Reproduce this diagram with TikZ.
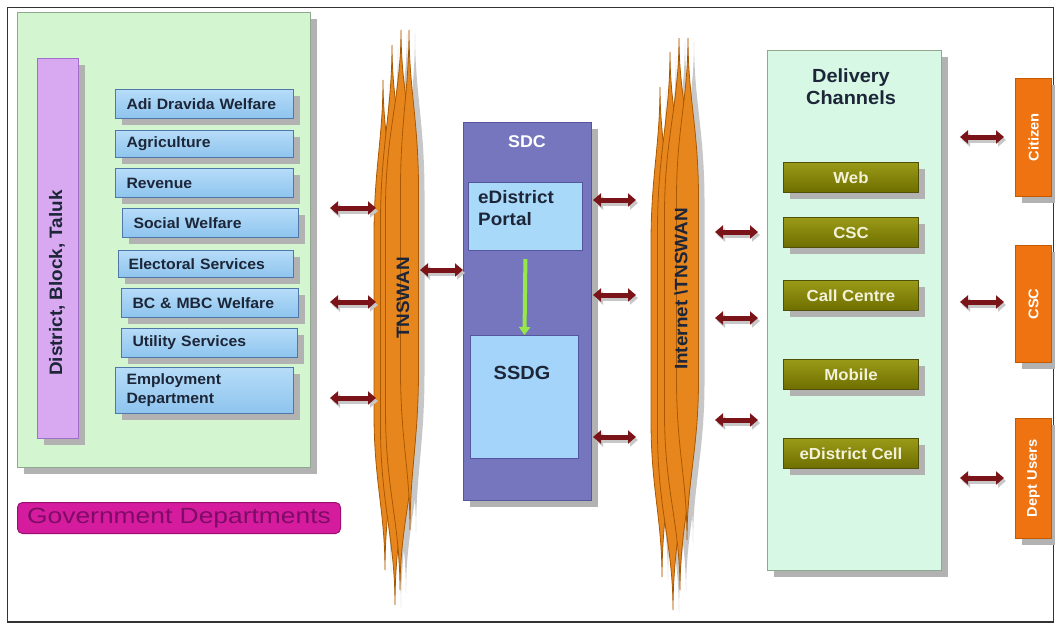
\documentclass[tikz,border=0pt]{standalone}
\usepackage{fontspec}
\setmainfont{Liberation Sans}[FakeStretch=1.05]
\newfontfamily\govfont{Liberation Sans}[FakeStretch=1.2]
\usetikzlibrary{arrows.meta,shadows}
\definecolor{framecol}{HTML}{333333}
\definecolor{panelgreen}{HTML}{D3F5D0}
\definecolor{panelborder}{HTML}{8FA88F}
\definecolor{delivgreen}{HTML}{D8F8E6}
\definecolor{deptlight}{HTML}{B6DCF8}
\definecolor{deptdark}{HTML}{8EC4EE}
\definecolor{deptborder}{HTML}{4F78A8}
\definecolor{depttext}{HTML}{1C2638}
\definecolor{purplebar}{HTML}{D8A8F0}
\definecolor{purpleborder}{HTML}{A070C8}
\definecolor{sdcfill}{HTML}{7676BE}
\definecolor{sdcborder}{HTML}{5555A0}
\definecolor{portalfill}{HTML}{A9D9F8}
\definecolor{ssdgfill}{HTML}{A4D4FA}
\definecolor{olivetop}{HTML}{9A9A18}
\definecolor{olivebot}{HTML}{6E6E00}
\definecolor{oliveborder}{HTML}{50500A}
\definecolor{olivetext}{HTML}{F2F2D8}
\definecolor{orangefill}{HTML}{F07312}
\definecolor{orangeborder}{HTML}{C45A00}
\definecolor{flamefill}{HTML}{E8861E}
\definecolor{flameedge}{HTML}{A85800}
\definecolor{arrowred}{HTML}{7A1418}
\definecolor{greenarrow}{HTML}{96E84A}
\definecolor{govfill}{HTML}{D61C9E}
\definecolor{govtext}{HTML}{7E0C66}
\definecolor{govborder}{HTML}{9A1070}
% style, xtop, ytop, xbottom, ybottom, half width
\newcommand\spindle[6]{%
  \path[#1] (#2,#3)
   .. controls (#2,{#3+0.12*(#5-#3)}) and ({(#2+#4)/2-#6},{#3+0.18*(#5-#3)}) .. ({(#2+#4)/2-#6},{#3+0.32*(#5-#3)})
   -- ({(#2+#4)/2-#6},{#3+0.68*(#5-#3)})
   .. controls ({(#2+#4)/2-#6},{#3+0.82*(#5-#3)}) and (#4,{#3+0.88*(#5-#3)}) .. (#4,#5)
   .. controls (#4,{#3+0.88*(#5-#3)}) and ({(#2+#4)/2+#6},{#3+0.82*(#5-#3)}) .. ({(#2+#4)/2+#6},{#3+0.68*(#5-#3)})
   -- ({(#2+#4)/2+#6},{#3+0.32*(#5-#3)})
   .. controls ({(#2+#4)/2+#6},{#3+0.18*(#5-#3)}) and (#2,{#3+0.12*(#5-#3)}) .. cycle;}
\newcommand\darrow[2]{%
  \draw[darrshadow] ([shift={(2pt,-3pt)}]#1) -- ([shift={(2pt,-3pt)}]#2);
  \draw[darr] (#1) -- (#2);}
\begin{document}
\begin{tikzpicture}[x=1pt,y=-1pt,
  shad/.style={drop shadow={shadow xshift=6pt,shadow yshift=-6pt,fill=black!30,opacity=1}},
  panel/.style={draw=panelborder,line width=1.2pt,shad,anchor=north west,inner sep=0pt},
  dept/.style={draw=deptborder,line width=1pt,top color=deptlight,bottom color=deptdark,
    anchor=north west,inner xsep=11pt,inner ysep=0pt,align=left,text=depttext,
    font=\bfseries\fontsize{15}{19}\selectfont,shad},
  olive/.style={draw=oliveborder,line width=1pt,top color=olivetop,bottom color=olivebot,
    anchor=north west,minimum width=135pt,minimum height=30pt,inner sep=0pt,text=olivetext,
    font=\bfseries\fontsize{16}{18}\selectfont,shad},
  orangebox/.style={draw=orangeborder,line width=1pt,fill=orangefill,anchor=north west,
    minimum width=36pt,inner sep=0pt,text=white,font=\bfseries\fontsize{14}{16}\selectfont,shad},
  flame/.style={fill=flamefill,draw=flameedge,line width=0.8pt},
  flameshadow/.style={fill=black!22},
  darr/.style={line width=5pt,draw=arrowred,{Triangle[length=8pt,width=13pt]}-{Triangle[length=8pt,width=13pt]}},
  darrshadow/.style={line width=5pt,draw=black!22,{Triangle[length=8pt,width=13pt]}-{Triangle[length=8pt,width=13pt]}},
  vlabel/.style={rotate=90,text=depttext,font=\bfseries\fontsize{18}{20}\selectfont,inner sep=0pt}
]
\useasboundingbox (0,0) rectangle (1055,624);
\fill[white] (0,0) rectangle (1055,624);
\draw[framecol,line width=1.6pt] (7.5,7.5) rectangle (1053.5,622);

% ---------- left panel ----------
\node[panel,fill=panelgreen,minimum width=293pt,minimum height=455pt] (govpanel) at (17,12) {};
\node[draw=purpleborder,line width=1pt,fill=purplebar,anchor=north west,minimum width=41pt,
  minimum height=380pt,inner sep=0pt,shad] (dbt) at (37,58) {};
\node[vlabel] (dbtlabel) at (57,283) {District, Block, Taluk};

\node[dept,text width=156pt,minimum height=29pt] (adi) at (115,89) {Adi Dravida Welfare};
\node[dept,text width=156pt,minimum height=27pt] (agr) at (115,130) {Agriculture};
\node[dept,text width=156pt,minimum height=29pt] (rev) at (115,168) {Revenue};
\node[dept,text width=154pt,minimum height=29pt] (soc) at (122,208) {Social Welfare};
\node[dept,inner xsep=10pt,text width=155pt,minimum height=27pt] (ele) at (118,250) {Electoral Services};
\node[dept,text width=155pt,minimum height=29pt] (bcm) at (121,288) {BC \& MBC Welfare};
\node[dept,text width=154pt,minimum height=29pt] (util) at (121,328) {Utility Services};
\node[dept,text width=156pt,minimum height=46pt] (emp) at (115,367) {Employment\\Department};

\node[draw=govborder,line width=1pt,fill=govfill,rounded corners=5pt,anchor=north west,
  minimum width=323pt,minimum height=31pt,inner sep=0pt,text=govtext,
  font=\govfont\fontsize{22}{24}\selectfont] (govdept) at (17,502) {Government Departments};

% ---------- TNSWAN flame ----------
\begin{scope}[shift={(6,3)}]
\spindle{flameshadow}{383}{80}{385}{570}{10}
\spindle{flameshadow}{392}{45}{395}{605}{13}
\spindle{flameshadow}{401}{30}{400}{590}{15}
\spindle{flameshadow}{409}{30}{410}{530}{9}
\end{scope}
\spindle{flame}{383}{80}{385}{570}{10}
\spindle{flame}{392}{45}{395}{605}{13}
\spindle{flame}{401}{30}{400}{590}{15}
\spindle{flame}{409}{30}{410}{530}{9}
\node[vlabel] (tnswan) at (403,298) {TNSWAN};

% ---------- Internet flame ----------
\begin{scope}[shift={(6,3)}]
\spindle{flameshadow}{660}{87}{662}{577}{10}
\spindle{flameshadow}{670}{52}{673}{610}{14}
\spindle{flameshadow}{679}{38}{680}{590}{15}
\spindle{flameshadow}{688}{38}{687}{540}{11}
\end{scope}
\spindle{flame}{660}{87}{662}{577}{10}
\spindle{flame}{670}{52}{673}{610}{14}
\spindle{flame}{679}{38}{680}{590}{15}
\spindle{flame}{688}{38}{687}{540}{11}
\node[vlabel] (internet) at (681,289) {Internet \textbackslash TNSWAN};

% ---------- SDC ----------
\node[draw=sdcborder,line width=1.2pt,fill=sdcfill,anchor=north west,minimum width=128pt,
  minimum height=378pt,inner sep=0pt,shad] (sdc) at (463,122) {};
\node[text=white,font=\bfseries\fontsize{17}{19}\selectfont,inner sep=0pt] (sdct) at (527,142) {SDC};
\node[draw=sdcborder,line width=1pt,fill=portalfill,anchor=north west,minimum width=114pt,
  minimum height=68pt,inner sep=0pt] (portal) at (468,182) {};
\node[anchor=west,align=left,text=depttext,font=\bfseries\fontsize{18}{22}\selectfont,inner sep=0pt]
  (portalt) at (478,208) {eDistrict\\Portal};
\node[draw=sdcborder,line width=1pt,fill=ssdgfill,anchor=north west,minimum width=108pt,
  minimum height=123pt,inner sep=0pt] (ssdg) at (470,335) {};
\node[text=depttext,font=\bfseries\fontsize{19}{21}\selectfont,inner sep=0pt] (ssdgt) at (522,373) {SSDG};
\draw[line width=4pt,draw=greenarrow,-{Triangle[length=8pt,width=11pt]},shorten <=8pt]
  (portal.south) -- (ssdg.north);

% ---------- Delivery channels ----------
\node[panel,fill=delivgreen,minimum width=174pt,minimum height=520pt] (deliv) at (767,50) {};
\node[align=center,text=depttext,font=\bfseries\fontsize{19}{22}\selectfont,inner sep=0pt]
  (delivt) at (851,87) {Delivery\\Channels};
\node[olive] (web) at (783,162) {Web};
\node[olive] (csc) at (783,217) {CSC};
\node[olive] (call) at (783,280) {Call Centre};
\node[olive] (mobile) at (783,359) {Mobile};
\node[olive] (cell) at (783,438) {eDistrict Cell};

% ---------- right boxes ----------
\node[orangebox,minimum height=118pt] (citizen) at (1015,78) {\rotatebox{90}{Citizen}};
\node[orangebox,minimum height=117pt] (cscu) at (1015,245) {\rotatebox{90}{CSC}};
\node[orangebox,minimum height=120pt] (dept) at (1015,418) {\rotatebox{90}{Dept Users}};

% ---------- arrows ----------
\coordinate (l1a) at (330,208); \coordinate (l1b) at (376,208);
\coordinate (l2a) at (330,302); \coordinate (l2b) at (376,302);
\coordinate (l3a) at (330,398); \coordinate (l3b) at (376,398);
\coordinate (ma) at (420,270);
\coordinate (r1a) at (593,200); \coordinate (r1b) at (636,200);
\coordinate (r2a) at (593,295); \coordinate (r2b) at (636,295);
\coordinate (r3a) at (593,437); \coordinate (r3b) at (636,437);
\coordinate (d1a) at (715,232); \coordinate (d1b) at (758,232);
\coordinate (d2a) at (715,318); \coordinate (d2b) at (758,318);
\coordinate (d3a) at (715,420); \coordinate (d3b) at (758,420);
\coordinate (e1a) at (960,137); \coordinate (e1b) at (1004,137);
\coordinate (e2a) at (960,302); \coordinate (e2b) at (1004,302);
\coordinate (e3a) at (960,478); \coordinate (e3b) at (1004,478);
\darrow{l1a}{l1b}
\darrow{l2a}{l2b}
\darrow{l3a}{l3b}
\darrow{ma}{sdc.west |- ma}
\darrow{r1a}{r1b}
\darrow{r2a}{r2b}
\darrow{r3a}{r3b}
\darrow{d1a}{d1b}
\darrow{d2a}{d2b}
\darrow{d3a}{d3b}
\darrow{e1a}{e1b}
\darrow{e2a}{e2b}
\darrow{e3a}{e3b}
\end{tikzpicture}
\end{document}
